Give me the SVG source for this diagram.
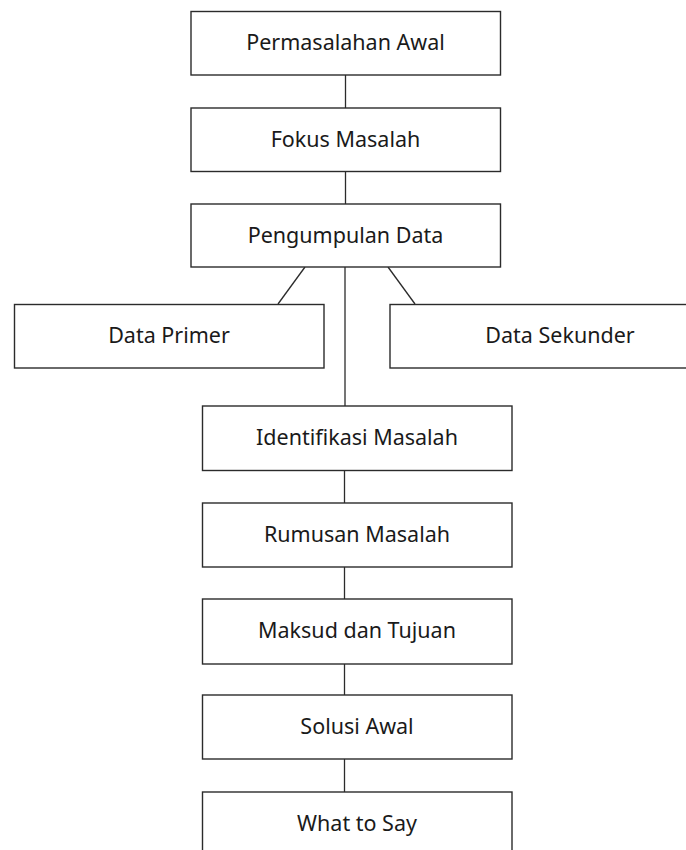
<svg xmlns="http://www.w3.org/2000/svg" width="686" height="850" viewBox="0 0 686 850">
<style>
.box{fill:#fff;stroke:#2b2b2b;stroke-width:1.4}
.lbl{font-family:"Noto Sans","Open Sans",sans-serif;font-size:21.5px;fill:#1a1a1a;text-anchor:middle}
.con{stroke:#2b2b2b;stroke-width:1.3;fill:none}
</style>
<rect width="686" height="850" fill="#fff"/>
<g id="connectors">
<line class="con" x1="345.5" y1="75" x2="345.5" y2="108"/>
<line class="con" x1="345.5" y1="171.5" x2="345.5" y2="204"/>
<line class="con" x1="345" y1="267" x2="345" y2="406"/>
<line class="con" x1="305" y1="267" x2="278" y2="304"/>
<line class="con" x1="388" y1="267" x2="415" y2="304"/>
<line class="con" x1="344.5" y1="470.5" x2="344.5" y2="503"/>
<line class="con" x1="344.5" y1="567" x2="344.5" y2="599"/>
<line class="con" x1="344.5" y1="664" x2="344.5" y2="695"/>
<line class="con" x1="344.5" y1="759" x2="344.5" y2="792"/>
</g>
<g id="permasalahan"><rect class="box" x="191" y="11.5" width="309.5" height="63.5"/><text class="lbl" x="345.5" y="50">Permasalahan Awal</text></g>
<g id="fokus"><rect class="box" x="191" y="108" width="309.5" height="63.5"/><text class="lbl" x="345.5" y="146.5">Fokus Masalah</text></g>
<g id="pengumpulan"><rect class="box" x="191" y="204" width="309.5" height="63"/><text class="lbl" x="345.5" y="242.5">Pengumpulan Data</text></g>
<g id="primer"><rect class="box" x="14.5" y="304.5" width="309.5" height="63.5"/><text class="lbl" x="169" y="343">Data Primer</text></g>
<g id="sekunder"><rect class="box" x="390" y="304.5" width="320" height="63.5"/><text class="lbl" x="560" y="343">Data Sekunder</text></g>
<g id="identifikasi"><rect class="box" x="202.5" y="406" width="309.5" height="64.5"/><text class="lbl" x="357" y="444.5">Identifikasi Masalah</text></g>
<g id="rumusan"><rect class="box" x="202.5" y="503" width="309.5" height="64"/><text class="lbl" x="357" y="541.5">Rumusan Masalah</text></g>
<g id="maksud"><rect class="box" x="202.5" y="599" width="309.5" height="65"/><text class="lbl" x="357" y="637.5">Maksud dan Tujuan</text></g>
<g id="solusi"><rect class="box" x="202.5" y="695" width="309.5" height="64"/><text class="lbl" x="357" y="733.5">Solusi Awal</text></g>
<g id="whattosay"><rect class="box" x="202.5" y="792" width="309.5" height="70"/><text class="lbl" x="357" y="830.5">What to Say</text></g>
</svg>
